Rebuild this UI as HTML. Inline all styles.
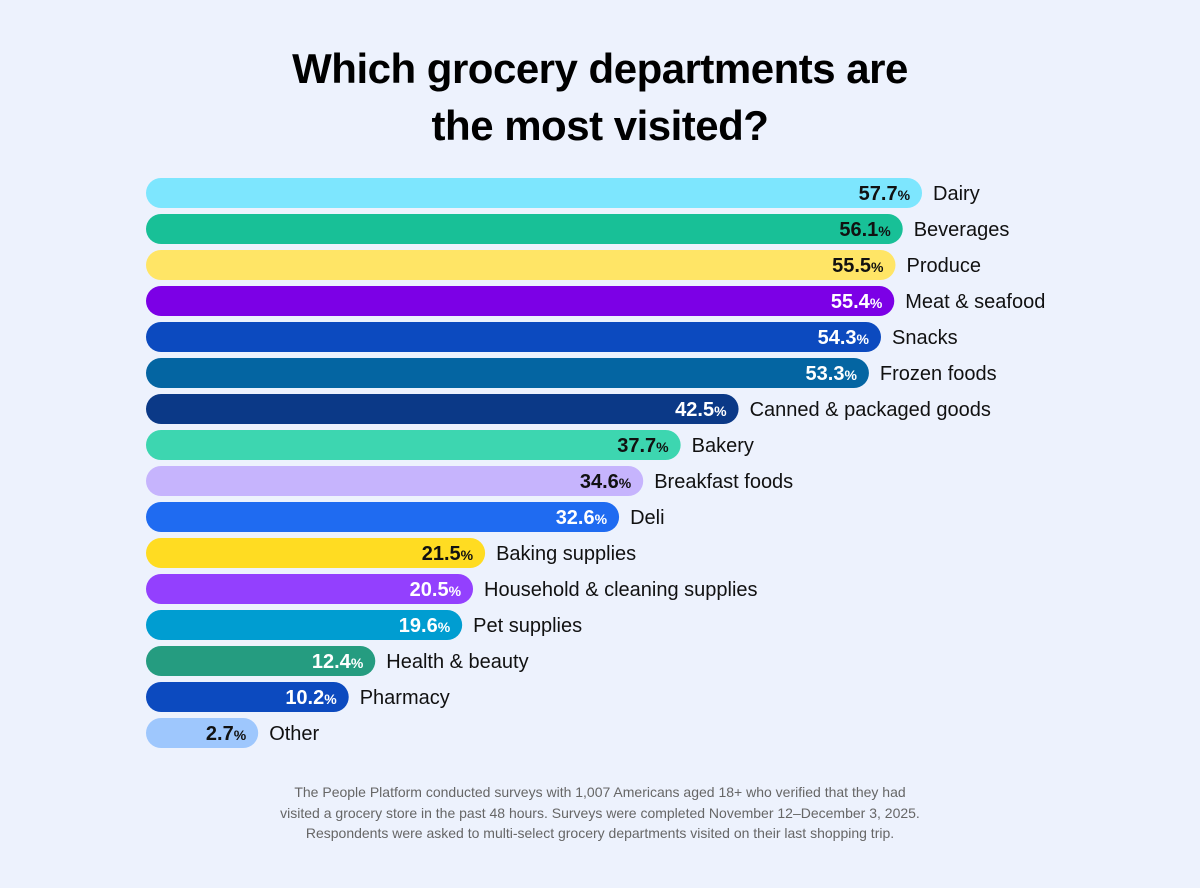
<!DOCTYPE html>
<html><head><meta charset="utf-8"><style>
body{margin:0;background:#edf2fd;font-family:"Liberation Sans",sans-serif;}
#wrap{position:relative;width:1200px;height:888px;overflow:hidden;background:#edf2fd}
h1{position:absolute;top:40px;left:0;width:1200px;margin:0;text-align:center;font-size:42px;line-height:57px;font-weight:bold;color:#000;letter-spacing:-0.5px}
#note{position:absolute;top:782px;left:0;width:1200px;text-align:center;font-size:14px;line-height:20.5px;color:#666}
</style></head><body>
<div id="wrap">
<h1>Which grocery departments are<br>the most visited?</h1>
<svg id="chart" width="1200" height="888" style="position:absolute;left:0;top:0"></svg>
<div id="note">The People Platform conducted surveys with 1,007 Americans aged 18+ who verified that they had<br>visited a grocery store in the past 48 hours. Surveys were completed November 12–December 3, 2025.<br>Respondents were asked to multi-select grocery departments visited on their last shopping trip.</div>
</div>
<script>
const categories=["Dairy","Beverages","Produce","Meat & seafood","Snacks","Frozen foods","Canned & packaged goods","Bakery","Breakfast foods","Deli","Baking supplies","Household & cleaning supplies","Pet supplies","Health & beauty","Pharmacy","Other"];
const values=[57.7,56.1,55.5,55.4,54.3,53.3,42.5,37.7,34.6,32.6,21.5,20.5,19.6,12.4,10.2,2.7];
const colors=["#7de6fe","#18c097","#ffe566","#7c00e6","#0c4abf","#0465a2","#0b3987","#3dd6b0","#c6b4fd","#1f6bf1","#ffdc22","#9340fe","#009dd1","#259c80","#0c4abf","#9ec7fd"];
const darkText=[true,true,true,false,false,false,false,true,true,false,true,false,false,false,false,true];
const svg=document.getElementById('chart');
const NS="http://www.w3.org/2000/svg";
const x0=146;
function xScale(v){return 225.6+v*12.07;}
function yScale(i){return 178+i*36;}
categories.forEach((c,i)=>{
  const v=values[i];const y=yScale(i);const xe=xScale(v);
  const r=document.createElementNS(NS,'rect');
  r.setAttribute('x',x0);r.setAttribute('y',y);r.setAttribute('width',xe-x0);r.setAttribute('height',30);
  r.setAttribute('rx',15);r.setAttribute('fill',colors[i]);
  
  
  svg.appendChild(r);
  const t=document.createElementNS(NS,'text');
  t.setAttribute('x',xe-12);t.setAttribute('y',y+22);t.setAttribute('text-anchor','end');
  t.setAttribute('font-size','20');t.setAttribute('font-weight','bold');
  t.setAttribute('fill',darkText[i]?'#111':'#fff');
  t.innerHTML=v.toFixed(1)+'<tspan font-size="14">%</tspan>';
  
  
  svg.appendChild(t);
  const l=document.createElementNS(NS,'text');
  l.setAttribute('x',xe+11);l.setAttribute('y',y+22);l.setAttribute('font-size','20');l.setAttribute('fill','#111');
  l.textContent=c;
  
  
  svg.appendChild(l);
});
</script>
</body></html>
